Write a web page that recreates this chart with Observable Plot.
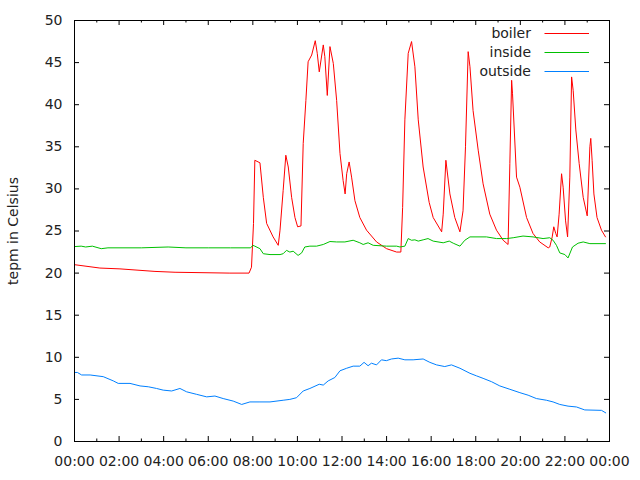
<!DOCTYPE html>
<html>
<head>
<meta charset="utf-8">
<script src="https://cdn.jsdelivr.net/npm/d3@7"></script>
<script src="https://cdn.jsdelivr.net/npm/@observablehq/plot@0.6"></script>
<style>
  html, body { margin: 0; padding: 0; background: #fff; }
  #chart svg { display: block; }
</style>
</head>
<body>
<div id="chart"></div>
<script>
// ---- data (hours since midnight, temperature in °C) ----
const seriesNames = ["boiler", "inside", "outside"];
const seriesColors = ["#ff0000", "#00c000", "#0080ff"];
const yLabel = "tepm in Celsius";
const xTickHours = [0, 2, 4, 6, 8, 10, 12, 14, 16, 18, 20, 22, 24];
const xMinorHours = [1, 3, 5, 7, 9, 11, 13, 15, 17, 19, 21, 23];
const yTicks = [0, 5, 10, 15, 20, 25, 30, 35, 40, 45, 50];

const boilerH = [0, 1.14, 2.04, 3.61, 4.51, 6.97, 7.83, 7.94, 8.03, 8.09, 8.32, 8.47, 8.62, 8.91, 9.14, 9.22, 9.36, 9.48, 9.59, 9.74, 9.89, 10.01, 10.16, 10.26, 10.38, 10.48, 10.64, 10.80, 10.89, 10.98, 11.16, 11.23, 11.34, 11.46, 11.61, 11.76, 11.91, 12.05, 12.14, 12.21, 12.32, 12.43, 12.58, 12.80, 13.10, 13.55, 14.00, 14.45, 14.64, 14.72, 14.82, 14.97, 15.12, 15.27, 15.42, 15.64, 15.91, 16.09, 16.47, 16.54, 16.66, 16.84, 17.06, 17.29, 17.43, 17.54, 17.66, 17.74, 17.88, 18.11, 18.33, 18.63, 18.93, 19.23, 19.45, 19.53, 19.61, 19.65, 19.83, 19.98, 20.28, 20.57, 20.87, 21.25, 21.32, 21.43, 21.50, 21.59, 21.65, 21.74, 21.85, 21.92, 22.03, 22.12, 22.22, 22.30, 22.37, 22.49, 22.64, 22.82, 23.00, 23.12, 23.16, 23.22, 23.30, 23.44, 23.64, 23.82];
const boilerV = [21.0, 20.6, 20.5, 20.2, 20.1, 20.0, 20.0, 20.7, 25.9, 33.4, 33.1, 29.0, 25.9, 24.3, 23.3, 25.1, 29.8, 34.0, 32.6, 29.0, 26.6, 25.5, 25.6, 35.4, 40.5, 45.1, 45.9, 47.6, 46.1, 43.9, 47.1, 45.7, 41.1, 46.9, 44.9, 40.5, 34.2, 31.0, 29.4, 31.8, 33.2, 31.4, 28.6, 26.6, 25.1, 23.7, 22.9, 22.5, 22.5, 27.8, 38.2, 46.1, 47.5, 44.5, 38.2, 32.6, 28.4, 26.6, 24.9, 27.0, 33.4, 29.4, 26.6, 24.9, 27.4, 35.0, 46.3, 44.5, 39.3, 34.6, 30.6, 27.0, 25.1, 23.9, 23.4, 33.0, 42.9, 41.3, 31.4, 30.2, 26.6, 24.7, 23.7, 23.0, 23.1, 24.3, 25.5, 24.7, 24.3, 27.0, 31.8, 30.2, 26.2, 24.3, 31.4, 43.3, 41.7, 37.0, 33.0, 29.0, 26.8, 35.0, 36.0, 33.4, 29.4, 26.6, 25.1, 24.3];

const insideH = [0, 0.3, 0.5, 0.8, 1.2, 1.5, 3.0, 4.2, 5.0, 6.0, 7.0, 7.9, 8.0, 8.09, 8.32, 8.47, 8.77, 9.22, 9.36, 9.51, 9.66, 9.81, 10.03, 10.19, 10.33, 10.56, 10.86, 11.16, 11.46, 11.76, 12.13, 12.50, 12.80, 12.95, 13.17, 13.40, 14.00, 14.45, 14.60, 14.82, 14.97, 15.12, 15.27, 15.42, 15.64, 15.86, 16.09, 16.54, 16.81, 16.99, 17.29, 17.51, 17.74, 18.48, 18.93, 19.38, 19.68, 20.12, 20.57, 21.02, 21.32, 21.47, 21.62, 21.77, 22.00, 22.14, 22.34, 22.59, 22.82, 23.12, 23.82];
const insideV = [23.15, 23.2, 23.1, 23.2, 22.9, 23.0, 23.0, 23.1, 23.0, 23.0, 23.0, 23.0, 23.3, 23.2, 22.9, 22.3, 22.2, 22.2, 22.3, 22.7, 22.5, 22.6, 22.1, 22.4, 23.1, 23.2, 23.2, 23.4, 23.75, 23.7, 23.7, 23.9, 23.6, 23.4, 23.6, 23.3, 23.2, 23.2, 23.1, 23.2, 24.1, 23.9, 23.95, 23.8, 23.95, 24.1, 23.8, 23.6, 23.8, 23.55, 23.2, 23.9, 24.3, 24.3, 24.1, 24.1, 24.2, 24.4, 24.3, 24.1, 24.2, 23.9, 23.3, 22.4, 22.2, 21.8, 23.1, 23.55, 23.7, 23.5, 23.5];

const outsideH = [0, 0.13, 0.32, 0.70, 1.29, 1.74, 1.96, 2.49, 2.94, 3.31, 3.68, 3.98, 4.36, 4.73, 5.03, 5.48, 5.93, 6.30, 6.67, 7.12, 7.50, 7.87, 8.32, 8.77, 9.36, 9.66, 9.96, 10.26, 10.56, 10.98, 11.16, 11.38, 11.68, 11.91, 12.21, 12.50, 12.80, 12.99, 13.17, 13.32, 13.55, 13.77, 13.99, 14.22, 14.52, 14.82, 15.19, 15.64, 15.94, 16.24, 16.61, 16.91, 17.29, 17.74, 18.03, 18.33, 18.71, 19.08, 19.53, 19.98, 20.35, 20.72, 21.17, 21.47, 21.77, 22.14, 22.52, 22.89, 23.64, 23.83];
const outsideV = [8.2, 8.2, 7.9, 7.9, 7.7, 7.2, 6.9, 6.9, 6.6, 6.5, 6.3, 6.1, 6.0, 6.3, 5.9, 5.6, 5.3, 5.4, 5.1, 4.8, 4.4, 4.7, 4.7, 4.7, 4.9, 5.0, 5.2, 6.0, 6.3, 6.8, 6.7, 7.2, 7.6, 8.4, 8.7, 8.95, 8.95, 9.4, 9.0, 9.3, 9.1, 9.7, 9.6, 9.8, 9.9, 9.7, 9.7, 9.8, 9.4, 9.1, 8.9, 9.1, 8.7, 8.1, 7.8, 7.5, 7.1, 6.6, 6.2, 5.8, 5.5, 5.1, 4.9, 4.7, 4.4, 4.2, 4.1, 3.75, 3.7, 3.4];

// ---- build table ----
const hoursList = [boilerH, insideH, outsideH];
const valuesList = [boilerV, insideV, outsideV];
const rows = [];
seriesNames.forEach((name, i) => {
  hoursList[i].forEach((h, j) => rows.push({series: name, hour: h, temp: valuesList[i][j]}));
});

// ---- layout ----
const W = 640, H = 480;
const mt = 20, mr = 31, mb = 39, ml = 74;
const frameH = H - mt - mb;
const frameW = W - ml - mr;
const majorLen = 5, minorLen = 2.5, yTickLen = 5;
const fmtHour = h => String(h % 24).padStart(2, "0") + ":00";

function legend(index, scales, values, dims) {
  const g = d3.create("svg:g");
  const xr = dims.width - dims.marginRight;
  seriesNames.forEach((name, i) => {
    const y = dims.marginTop + 12.7 + i * 19.2;
    g.append("text")
      .attr("x", xr - 78).attr("y", y)
      .attr("text-anchor", "end").attr("dy", "0.36em")
      .attr("fill", "#222")
      .text(name);
    g.append("line")
      .attr("x1", xr - 64.5).attr("x2", xr - 20)
      .attr("y1", Math.round(y) + 0.5).attr("y2", Math.round(y) + 0.5)
      .attr("stroke", seriesColors[i]).attr("stroke-width", 1);
  });
  return g.node();
}

const chart = Plot.plot({
  width: W,
  height: H,
  marginTop: mt,
  marginRight: mr,
  marginBottom: mb,
  marginLeft: ml,
  style: {fontFamily: "'DejaVu Sans', sans-serif", fontSize: "14px", color: "#222", background: "#fff"},
  x: {domain: [0, 24]},
  y: {domain: [0, 50]},
  color: {domain: seriesNames, range: seriesColors},
  marks: [
    Plot.line(rows, {x: "hour", y: "temp", z: "series", stroke: "series", strokeWidth: 1}),
    // major/minor x ticks (inward, bottom and top)
    Plot.tickX(xTickHours, {x: d => d, insetTop: frameH - majorLen, stroke: "#000"}),
    Plot.tickX(xTickHours, {x: d => d, insetBottom: frameH - majorLen, stroke: "#000"}),
    Plot.tickX(xMinorHours, {x: d => d, insetTop: frameH - minorLen, stroke: "#000"}),
    Plot.tickX(xMinorHours, {x: d => d, insetBottom: frameH - minorLen, stroke: "#000"}),
    // y ticks (inward, left and right)
    Plot.tickY(yTicks, {y: d => d, insetRight: frameW - yTickLen, stroke: "#000"}),
    Plot.tickY(yTicks, {y: d => d, insetLeft: frameW - yTickLen, stroke: "#000"}),
    Plot.axisX(xTickHours, {tickSize: 0, tickPadding: 15, tickFormat: fmtHour, label: null, fill: "#222"}),
    Plot.axisY(yTicks, {tickSize: 0, tickPadding: 12, label: null, fill: "#222"}),
    Plot.text([yLabel], {frameAnchor: "left", textAnchor: "middle", text: d => d, rotate: -90, dx: -61, fill: "#222"}),
    Plot.frame({stroke: "#000"}),
    legend
  ]
});

document.getElementById("chart").appendChild(chart);
</script>
</body>
</html>
